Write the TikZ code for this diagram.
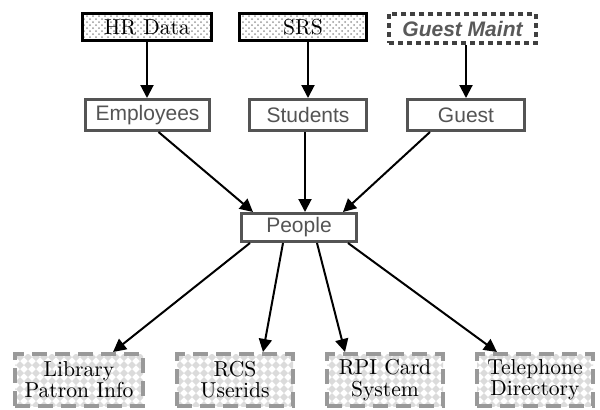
\documentclass[tikz,border=0pt]{standalone}
\usepackage{fontspec}
\setsansfont{Liberation Sans}
\usetikzlibrary{arrows.meta,patterns,patterns.meta}

% light grey diamonds for the target systems
\tikzdeclarepattern{
  name=diamondgrid,
  type=uncolored,
  bottom left={(-.1pt,-.1pt)},
  top right={(4.1pt,4.1pt)},
  tile size={(4pt,4pt)},
  code={\fill (2pt,0pt) -- (4pt,2pt) -- (2pt,4pt) -- (0pt,2pt) -- cycle;}
}

\begin{document}
\begin{tikzpicture}[x=0.5pt,y=-0.5pt,
  src/.style={draw=black, line width=1.5pt, preaction={fill=white}, pattern=crosshatch dots, pattern color=black!40, inner sep=0pt, minimum height=13.5pt, font=\rmfamily\fontsize{10.8}{11}\selectfont},
  feed/.style={draw=black!75, line width=1.8pt, dash pattern=on 2.5pt off 2pt, fill=white, inner sep=0pt, minimum width=73.5pt, minimum height=14.7pt, text=black!65, font=\sffamily\bfseries\itshape\fontsize{10.5}{11}\selectfont},
  tbl/.style={draw=black!67, line width=1.5pt, fill=white, inner sep=0pt, minimum height=15.5pt, text=black!67, font=\sffamily\fontsize{10.5}{11}\selectfont},
  sys/.style={draw=black!40, line width=2pt, dash pattern=on 7.5pt off 4pt, preaction={fill=white}, pattern=diamondgrid, pattern color=black!14, inner sep=0pt, minimum width=58pt, minimum height=26pt, align=center, font=\rmfamily\fontsize{10.8}{10.6}\selectfont},
  arr/.style={-{Triangle[length=6.5pt,width=6.5pt]}, line width=1pt}]
\useasboundingbox (0,0) rectangle (600,409);

% sources
\node[src, minimum width=64.5pt] (hr) at (147,27) {HR Data};
\node[src, minimum width=63.5pt] (srs) at (303,27) {SRS};
\node[feed] (gm) at (462.5,28.5) {Guest Maint};

% tables
\node[tbl, minimum width=62pt] (emp) at (147.5,115) {Employees};
\node[tbl, minimum width=58.5pt] (stu) at (308,115) {Students};
\node[tbl, minimum width=58.5pt] (gst) at (466,115) {Guest};
\node[tbl, minimum width=57.5pt, minimum height=14pt] (ppl) at (299,227.5) {People};

% systems fed from People
\node[sys, minimum width=64pt] (lib) at (79,380) {Library\\Patron Info};
\node[sys] (rcs) at (235,380) {RCS\\Userids};
\node[sys] (rpi) at (385,380) {RPI Card\\System};
\node[sys] (tel) at (535,380) {Telephone\\Directory};

% loads
\draw[arr] (hr.south) -- (hr.south |- emp.north);
\draw[arr] (stu.north |- srs.south) -- (stu.north);
\draw[arr] (gst.north |- gm.south) -- (gst.north);

\draw[arr] ([xshift=5.5pt]emp.south) -- ([xshift=-23pt]ppl.north);
\draw[arr] ([xshift=-1.5pt]stu.south) -- ([xshift=3pt]ppl.north);
\draw[arr] ([xshift=-18pt]gst.south) -- ([xshift=22pt]ppl.north);

% feeds
\draw[arr] ([xshift=-24.5pt]ppl.south) -- ([xshift=17pt]lib.north);
\draw[arr] ([xshift=-8pt]ppl.south) -- ([xshift=14pt]rcs.north);
\draw[arr] ([xshift=9pt]ppl.south) -- ([xshift=-20pt]rpi.north);
\draw[arr] ([xshift=24.5pt]ppl.south) -- ([xshift=-19pt]tel.north);

\end{tikzpicture}
\end{document}
